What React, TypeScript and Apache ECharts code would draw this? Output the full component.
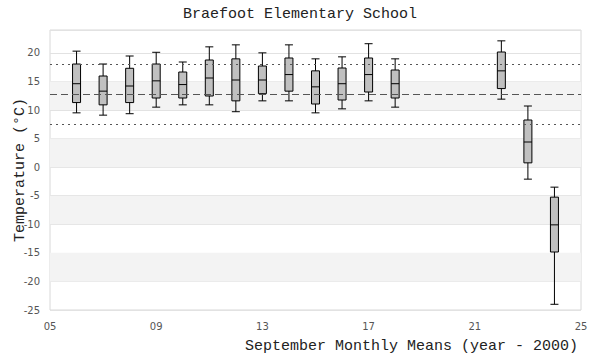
import React, { useEffect, useRef } from "react";
import * as echarts from "echarts";

const years = [6, 7, 8, 9, 10, 11, 12, 13, 14, 15, 16, 17, 18, 22, 23, 24];
const mins = [9.5, 9.1, 9.35, 10.5, 10.9, 10.9, 9.7, 11.6, 11.6, 9.5, 10.2, 11.6, 10.5, 11.9, -2.1, -24.0];
const q1s = [11.3, 10.9, 11.3, 12.1, 12.1, 12.45, 11.6, 12.85, 13.3, 11.05, 11.75, 13.15, 12.1, 13.75, 0.75, -14.85];
const medians = [14.6, 13.3, 14.2, 15.1, 14.45, 15.6, 15.25, 15.25, 16.2, 14.05, 14.6, 16.2, 14.6, 16.85, 4.4, -10.1];
const q3s = [18.05, 15.95, 17.3, 18.05, 16.65, 18.75, 18.95, 17.7, 19.1, 16.85, 17.35, 19.1, 17.0, 20.15, 8.25, -5.25];
const maxs = [20.3, 18.05, 19.45, 20.1, 18.4, 21.05, 21.4, 20.0, 21.4, 18.95, 19.3, 21.6, 18.95, 22.1, 10.7, -3.5];

const meanLine = 12.8;
const upperLine = 18.05;
const lowerLine = 7.55;

const bands: [number, number][] = [
  [-20, -15],
  [-10, -5],
  [0, 5],
  [10, 15],
];

const xAxisTitle = "September Monthly Means (year - 2000)";

const MONO = "'Liberation Mono', 'DejaVu Sans Mono', monospace";
const SANS = "'DejaVu Sans', sans-serif";

export default function App() {
  const ref = useRef<HTMLDivElement>(null);
  useEffect(() => {
    if (!ref.current) return;
    const chart = echarts.init(ref.current, undefined, { renderer: "svg" });
    const data = years.map((y, i) => [y, mins[i], q1s[i], medians[i], q3s[i], maxs[i]]);
    chart.setOption({
      animation: false,
      title: {
        text: "Braefoot Elementary School",
        left: "center",
        top: 7,
        padding: 0,
        textStyle: { fontFamily: MONO, fontSize: 15, fontWeight: "normal", color: "#222" },
      },
      graphic: [
        {
          type: "text",
          right: 22,
          top: 339,
          style: {
            text: xAxisTitle,
            font: `15px ${MONO}`,
            fill: "#222",
          },
        },
      ],
      grid: {
        left: 50,
        right: 19,
        top: 30,
        bottom: 50,
        show: true,
        borderColor: "#d8d8d8",
        borderWidth: 1,
        backgroundColor: "transparent",
      },
      xAxis: {
        type: "value",
        min: 5,
        max: 25,
        interval: 4,
        axisLine: { show: false },
        axisTick: { show: false },
        splitLine: { show: false },
        axisLabel: {
          fontFamily: SANS,
          fontSize: 10,
          color: "#555",
          margin: 11,
          formatter: (v: number) => String(v).padStart(2, "0"),
        },
      },
      yAxis: {
        type: "value",
        min: -25,
        max: 24,
        interval: 5,
        name: "Temperature (°C)",
        nameLocation: "middle",
        nameGap: 22,
        nameMoveOverlap: false,
        nameTextStyle: { fontFamily: MONO, fontSize: 15, color: "#222" },
        axisLine: { show: false },
        axisTick: { show: false },
        axisLabel: {
          fontFamily: SANS,
          fontSize: 10,
          color: "#555",
          margin: 10,
          showMaxLabel: false,
        },
        splitLine: { show: true, lineStyle: { color: "#e2e2e2", width: 1 } },
      },
      series: [
        {
          type: "line",
          data: [],
          z: -1,
          silent: true,
          markArea: {
            silent: true,
            itemStyle: { color: "#f3f3f3", opacity: 1 },
            data: bands.map(([a, b]) => [
              { xAxis: 5, yAxis: a },
              { xAxis: 25, yAxis: b },
            ]),
          },
        },
        {
          type: "boxplot",
          data,
          encode: { x: 0, y: [1, 2, 3, 4, 5] },
          boxWidth: [8, 8],
          itemStyle: { color: "#c0c0c0", borderColor: "#000", borderWidth: 1 },
          markLine: {
            silent: true,
            symbol: "none",
            label: { show: false },
            data: [
              { yAxis: upperLine, lineStyle: { type: [2, 4], color: "#555", width: 1 } },
              { yAxis: meanLine, lineStyle: { type: [7, 4], color: "#555", width: 1 } },
              { yAxis: lowerLine, lineStyle: { type: [2, 4], color: "#555", width: 1 } },
            ],
          },
        },
      ],
    });
    return () => chart.dispose();
  }, []);
  return <div ref={ref} style={{ position: "absolute", left: 0, top: 0, width: 600, height: 360 }} />;
}
